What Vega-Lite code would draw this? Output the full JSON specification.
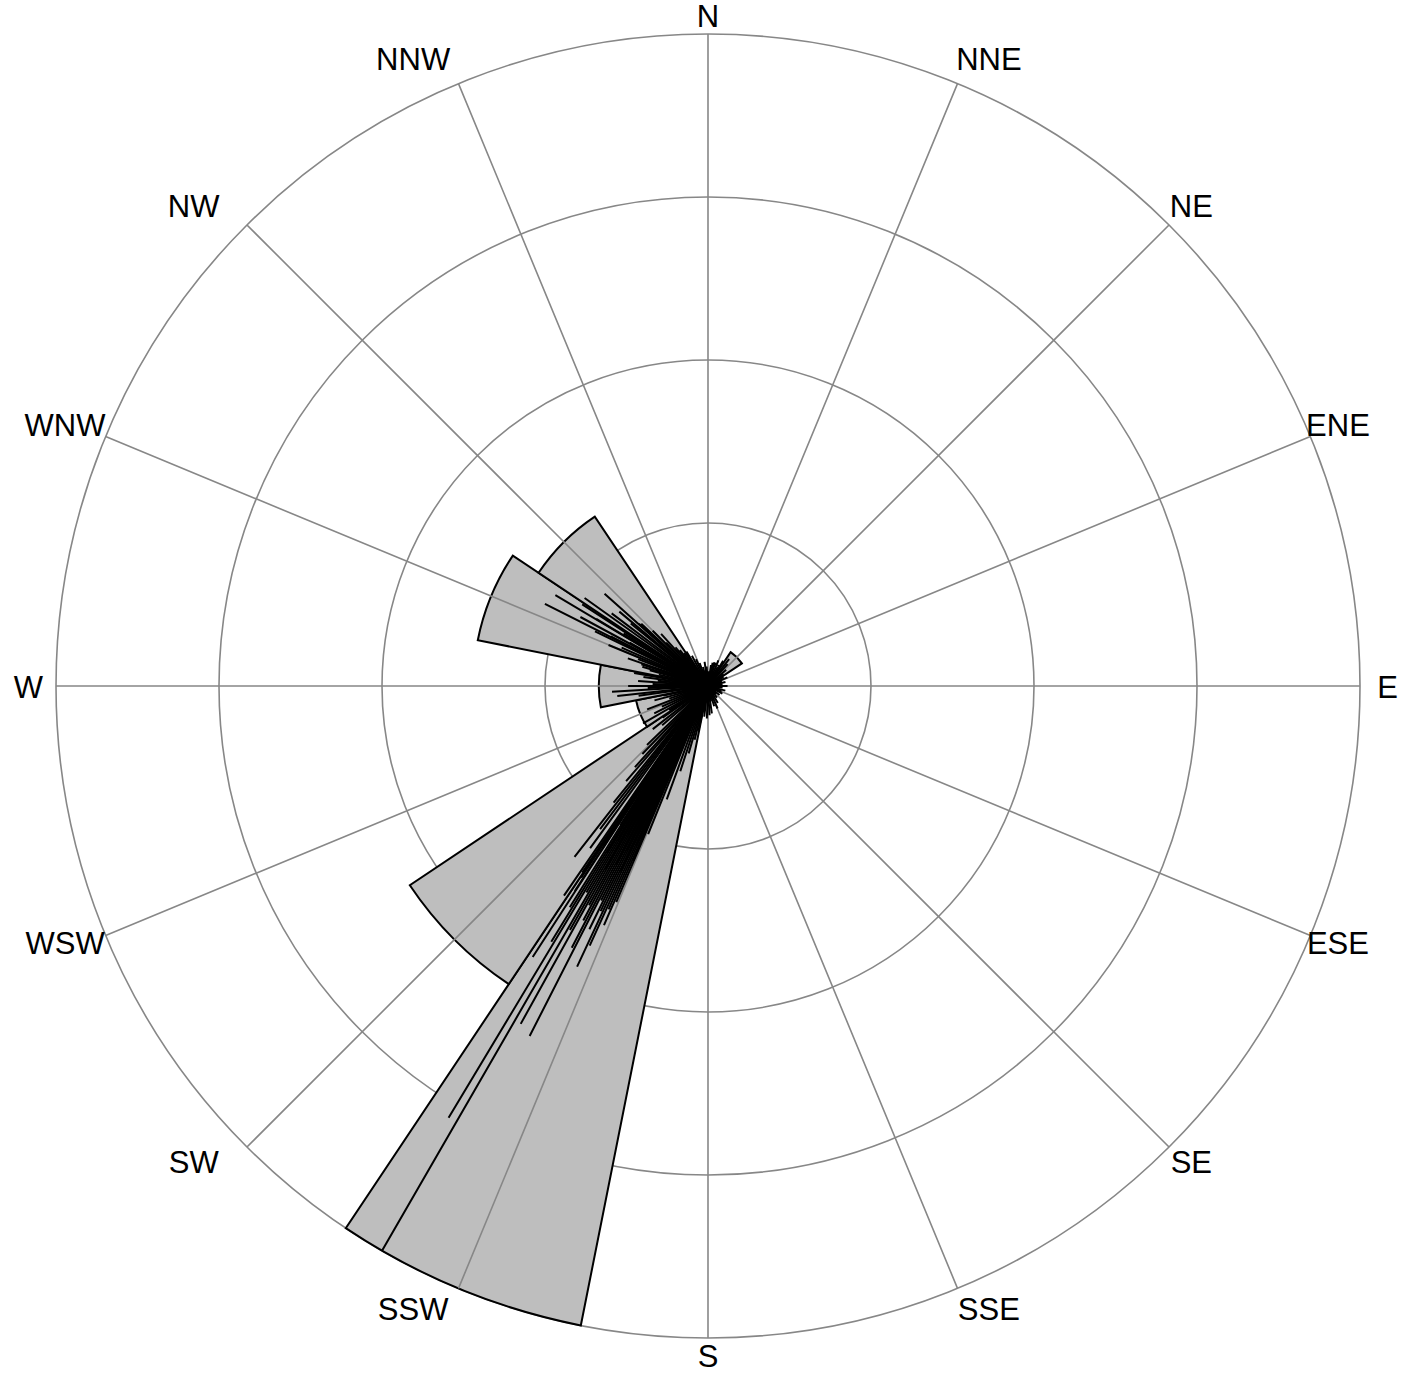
{
  "$schema": "https://vega.github.io/schema/vega-lite/v6.json",
  "width": 1416,
  "height": 1373,
  "padding": 0,
  "autosize": {"type": "fit", "contains": "padding"},
  "background": "white",
  "config": {"view": {"stroke": null}},
  "datasets": {
    "rings": [{"ring": 1}, {"ring": 2}, {"ring": 3}, {"ring": 4}],
    "directions": [
      {"dir": "N", "angle": 0}, {"dir": "NNE", "angle": 22.5}, {"dir": "NE", "angle": 45}, {"dir": "ENE", "angle": 67.5},
      {"dir": "E", "angle": 90}, {"dir": "ESE", "angle": 112.5}, {"dir": "SE", "angle": 135}, {"dir": "SSE", "angle": 157.5},
      {"dir": "S", "angle": 180}, {"dir": "SSW", "angle": 202.5}, {"dir": "SW", "angle": 225}, {"dir": "WSW", "angle": 247.5},
      {"dir": "W", "angle": 270}, {"dir": "WNW", "angle": 292.5}, {"dir": "NW", "angle": 315}, {"dir": "NNW", "angle": 337.5}
    ],
    "wedges": [
      {"dir": "N", "from": -11.25, "to": 11.25, "freq": 0.06},
      {"dir": "NNE", "from": 11.25, "to": 33.75, "freq": 0.14},
      {"dir": "NE", "from": 33.75, "to": 56.25, "freq": 0.25},
      {"dir": "ENE", "from": 56.25, "to": 78.75, "freq": 0.06},
      {"dir": "E", "from": 78.75, "to": 101.25, "freq": 0.05},
      {"dir": "ESE", "from": 101.25, "to": 123.75, "freq": 0.05},
      {"dir": "SE", "from": 123.75, "to": 146.25, "freq": 0.05},
      {"dir": "SSE", "from": 146.25, "to": 168.75, "freq": 0.06},
      {"dir": "S", "from": 168.75, "to": 191.25, "freq": 0.09},
      {"dir": "SSW", "from": 191.25, "to": 213.75, "freq": 4.0},
      {"dir": "SW", "from": 213.75, "to": 236.25, "freq": 2.2},
      {"dir": "WSW", "from": 236.25, "to": 258.75, "freq": 0.45},
      {"dir": "W", "from": 258.75, "to": 281.25, "freq": 0.67},
      {"dir": "WNW", "from": 281.25, "to": 303.75, "freq": 1.44},
      {"dir": "NW", "from": 303.75, "to": 326.25, "freq": 1.25},
      {"dir": "NNW", "from": 326.25, "to": 348.75, "freq": 0.09}
    ],
    "obs": [
      {"bearing": 210.0, "len": 4.0}, {"bearing": 211.0, "len": 3.09}, {"bearing": 209.0, "len": 2.37}, {"bearing": 207.0, "len": 2.41},
      {"bearing": 212.9, "len": 1.98}, {"bearing": 205.0, "len": 1.9}, {"bearing": 214.5, "len": 1.56},
      {"bearing": 203.0, "len": 1.44}, {"bearing": 203.5, "len": 1.6}, {"bearing": 204.0, "len": 1.5}, {"bearing": 204.5, "len": 1.75},
      {"bearing": 205.5, "len": 1.53}, {"bearing": 206.0, "len": 1.66}, {"bearing": 206.5, "len": 1.47}, {"bearing": 207.5, "len": 1.81},
      {"bearing": 208.0, "len": 1.63}, {"bearing": 208.5, "len": 1.53}, {"bearing": 209.5, "len": 1.72}, {"bearing": 210.5, "len": 1.47},
      {"bearing": 211.5, "len": 1.84}, {"bearing": 212.0, "len": 1.6}, {"bearing": 213.0, "len": 1.5}, {"bearing": 213.5, "len": 1.41},
      {"bearing": 214.0, "len": 1.38},
      {"bearing": 202.0, "len": 0.98}, {"bearing": 203.2, "len": 1.17}, {"bearing": 204.2, "len": 1.07}, {"bearing": 205.2, "len": 1.26},
      {"bearing": 206.2, "len": 1.13}, {"bearing": 207.2, "len": 1.23}, {"bearing": 208.2, "len": 1.04}, {"bearing": 209.2, "len": 1.29},
      {"bearing": 210.2, "len": 1.1}, {"bearing": 211.2, "len": 1.2}, {"bearing": 212.2, "len": 1.01}, {"bearing": 213.2, "len": 1.17},
      {"bearing": 214.2, "len": 0.92},
      {"bearing": 200.0, "len": 0.74}, {"bearing": 198.0, "len": 0.55}, {"bearing": 196.0, "len": 0.43}, {"bearing": 194.0, "len": 0.34},
      {"bearing": 192.0, "len": 0.28},
      {"bearing": 216.0, "len": 1.23}, {"bearing": 217.0, "len": 1.1}, {"bearing": 218.0, "len": 1.33}, {"bearing": 219.0, "len": 0.92},
      {"bearing": 220.7, "len": 0.77}, {"bearing": 222.0, "len": 0.67}, {"bearing": 224.0, "len": 0.58}, {"bearing": 226.0, "len": 0.52},
      {"bearing": 229.5, "len": 0.37}, {"bearing": 232.0, "len": 0.43}, {"bearing": 235.0, "len": 0.34}, {"bearing": 238.0, "len": 0.28},
      {"bearing": 240.0, "len": 0.46}, {"bearing": 243.0, "len": 0.37}, {"bearing": 246.0, "len": 0.31}, {"bearing": 249.0, "len": 0.4},
      {"bearing": 252.0, "len": 0.25}, {"bearing": 255.0, "len": 0.34}, {"bearing": 258.0, "len": 0.28},
      {"bearing": 262.0, "len": 0.43}, {"bearing": 263.7, "len": 0.56}, {"bearing": 266.6, "len": 0.59}, {"bearing": 268.0, "len": 0.37},
      {"bearing": 270.0, "len": 0.49}, {"bearing": 272.0, "len": 0.34}, {"bearing": 274.0, "len": 0.43}, {"bearing": 276.0, "len": 0.31},
      {"bearing": 278.0, "len": 0.4}, {"bearing": 280.0, "len": 0.46},
      {"bearing": 283.0, "len": 0.31}, {"bearing": 285.0, "len": 0.37}, {"bearing": 286.4, "len": 0.42}, {"bearing": 288.0, "len": 0.43},
      {"bearing": 289.0, "len": 0.52}, {"bearing": 291.0, "len": 0.46}, {"bearing": 292.4, "len": 0.66}, {"bearing": 294.0, "len": 0.58},
      {"bearing": 295.8, "len": 0.77}, {"bearing": 296.7, "len": 1.12}, {"bearing": 297.0, "len": 0.67}, {"bearing": 298.4, "len": 0.89},
      {"bearing": 299.0, "len": 0.55}, {"bearing": 300.8, "len": 1.09}, {"bearing": 301.0, "len": 0.8}, {"bearing": 302.0, "len": 0.61},
      {"bearing": 303.0, "len": 0.92},
      {"bearing": 305.5, "len": 0.93}, {"bearing": 307.0, "len": 0.74}, {"bearing": 309.0, "len": 0.61}, {"bearing": 310.0, "len": 0.71},
      {"bearing": 311.7, "len": 0.85}, {"bearing": 312.0, "len": 0.57}, {"bearing": 313.0, "len": 0.56}, {"bearing": 315.0, "len": 0.48},
      {"bearing": 316.0, "len": 0.37}, {"bearing": 318.0, "len": 0.43}, {"bearing": 320.0, "len": 0.31}, {"bearing": 322.0, "len": 0.28},
      {"bearing": 324.0, "len": 0.25},
      {"bearing": 328.0, "len": 0.25}, {"bearing": 332.0, "len": 0.21}, {"bearing": 336.0, "len": 0.18}, {"bearing": 340.0, "len": 0.15},
      {"bearing": 345.0, "len": 0.12}, {"bearing": 352.0, "len": 0.15}, {"bearing": 356.0, "len": 0.12}, {"bearing": 2.0, "len": 0.09},
      {"bearing": 8.0, "len": 0.13},
      {"bearing": 15.0, "len": 0.15}, {"bearing": 17.0, "len": 0.15}, {"bearing": 22.0, "len": 0.17}, {"bearing": 27.0, "len": 0.13},
      {"bearing": 31.0, "len": 0.18}, {"bearing": 38.0, "len": 0.21}, {"bearing": 42.0, "len": 0.18}, {"bearing": 48.0, "len": 0.15},
      {"bearing": 53.0, "len": 0.12}, {"bearing": 60.0, "len": 0.11}, {"bearing": 66.0, "len": 0.13}, {"bearing": 72.0, "len": 0.09},
      {"bearing": 77.0, "len": 0.11}, {"bearing": 84.0, "len": 0.09}, {"bearing": 90.0, "len": 0.12}, {"bearing": 96.0, "len": 0.09},
      {"bearing": 105.0, "len": 0.11}, {"bearing": 112.0, "len": 0.09}, {"bearing": 118.0, "len": 0.1}, {"bearing": 128.0, "len": 0.09},
      {"bearing": 135.0, "len": 0.07}, {"bearing": 142.0, "len": 0.09}, {"bearing": 150.0, "len": 0.12}, {"bearing": 157.0, "len": 0.15},
      {"bearing": 163.0, "len": 0.13}, {"bearing": 172.0, "len": 0.17}, {"bearing": 177.0, "len": 0.18}, {"bearing": 182.0, "len": 0.2},
      {"bearing": 187.0, "len": 0.19}, {"bearing": 190.0, "len": 0.15}
    ]
  },
  "layer": [
    {
      "data": {"name": "rings"},
      "mark": {"type": "arc", "filled": false, "stroke": "#878787", "strokeWidth": 1.6},
      "encoding": {
        "theta": {"value": 0},
        "theta2": {"value": 6.2832},
        "radius": {"field": "ring", "type": "quantitative", "stack": null,
          "scale": {"type": "linear", "domain": [0, 4], "range": [0, 652], "zero": true}}
      }
    },
    {
      "data": {"name": "wedges"},
      "mark": {"type": "arc", "fill": "#bebebe", "stroke": "black", "strokeWidth": 2},
      "encoding": {
        "theta": {"field": "from", "type": "quantitative", "stack": null,
          "scale": {"domain": [0, 360], "range": [0, 6.283185307]}},
        "theta2": {"field": "to"},
        "radius": {"field": "freq", "type": "quantitative", "stack": null,
          "scale": {"type": "linear", "domain": [0, 4], "range": [0, 652], "zero": true}}
      }
    },
    {
      "data": {"name": "directions"},
      "mark": {"type": "arc", "filled": false, "stroke": "#878787", "strokeWidth": 1.6},
      "encoding": {
        "theta": {"field": "angle", "type": "quantitative", "stack": null,
          "scale": {"domain": [0, 360], "range": [0, 6.283185307]}},
        "theta2": {"field": "angle"},
        "radius": {"datum": 4, "type": "quantitative",
          "scale": {"type": "linear", "domain": [0, 4], "range": [0, 652], "zero": true}}
      }
    },
    {
      "data": {"name": "obs"},
      "mark": {"type": "arc", "filled": false, "stroke": "black", "strokeWidth": 2},
      "encoding": {
        "theta": {"field": "bearing", "type": "quantitative", "stack": null,
          "scale": {"domain": [0, 360], "range": [0, 6.283185307]}},
        "theta2": {"field": "bearing"},
        "radius": {"field": "len", "type": "quantitative", "stack": null,
          "scale": {"type": "linear", "domain": [0, 4], "range": [0, 652], "zero": true}}
      }
    },
    {
      "data": {"name": "directions"},
      "transform": [{"filter": "datum.angle == 0 || datum.angle == 180"}],
      "mark": {"type": "text", "font": "Liberation Sans", "fontSize": 31, "color": "black", "align": "center", "baseline": "middle", "dy": 2},
      "encoding": {
        "text": {"field": "dir"},
        "theta": {"field": "angle", "type": "quantitative", "stack": null,
          "scale": {"domain": [0, 360], "range": [0, 6.283185307]}},
        "radius": {"datum": 4.11, "type": "quantitative",
          "scale": {"type": "linear", "domain": [0, 4], "range": [0, 652], "zero": true}}
      }
    },
    {
      "data": {"name": "directions"},
      "transform": [{"filter": "datum.angle == 90 || datum.angle == 270"}],
      "mark": {"type": "text", "font": "Liberation Sans", "fontSize": 31, "color": "black", "align": "center", "baseline": "middle", "dy": 3},
      "encoding": {
        "text": {"field": "dir"},
        "theta": {"field": "angle", "type": "quantitative", "stack": null,
          "scale": {"domain": [0, 360], "range": [0, 6.283185307]}},
        "radius": {"datum": 4.17, "type": "quantitative",
          "scale": {"type": "linear", "domain": [0, 4], "range": [0, 652], "zero": true}}
      }
    },
    {
      "data": {"name": "directions"},
      "transform": [{"filter": "datum.angle == 22.5 || datum.angle == 157.5"}],
      "mark": {"type": "text", "font": "Liberation Sans", "fontSize": 31, "color": "black", "align": "center", "baseline": "middle", "dx": 22},
      "encoding": {
        "text": {"field": "dir"},
        "theta": {"field": "angle", "type": "quantitative", "stack": null,
          "scale": {"domain": [0, 360], "range": [0, 6.283185307]}},
        "radius": {"datum": 4.15, "type": "quantitative",
          "scale": {"type": "linear", "domain": [0, 4], "range": [0, 652], "zero": true}}
      }
    },
    {
      "data": {"name": "directions"},
      "transform": [{"filter": "datum.angle == 45 || datum.angle == 67.5 || datum.angle == 112.5 || datum.angle == 135"}],
      "mark": {"type": "text", "font": "Liberation Sans", "fontSize": 31, "color": "black", "align": "center", "baseline": "middle", "dx": 5},
      "encoding": {
        "text": {"field": "dir"},
        "theta": {"field": "angle", "type": "quantitative", "stack": null,
          "scale": {"domain": [0, 360], "range": [0, 6.283185307]}},
        "radius": {"datum": 4.15, "type": "quantitative",
          "scale": {"type": "linear", "domain": [0, 4], "range": [0, 652], "zero": true}}
      }
    },
    {
      "data": {"name": "directions"},
      "transform": [{"filter": "datum.angle == 202.5 || datum.angle == 225 || datum.angle == 315 || datum.angle == 337.5"}],
      "mark": {"type": "text", "font": "Liberation Sans", "fontSize": 31, "color": "black", "align": "center", "baseline": "middle", "dx": -36},
      "encoding": {
        "text": {"field": "dir"},
        "theta": {"field": "angle", "type": "quantitative", "stack": null,
          "scale": {"domain": [0, 360], "range": [0, 6.283185307]}},
        "radius": {"datum": 4.15, "type": "quantitative",
          "scale": {"type": "linear", "domain": [0, 4], "range": [0, 652], "zero": true}}
      }
    },
    {
      "data": {"name": "directions"},
      "transform": [{"filter": "datum.angle == 247.5 || datum.angle == 292.5"}],
      "mark": {"type": "text", "font": "Liberation Sans", "fontSize": 31, "color": "black", "align": "center", "baseline": "middle", "dx": -18},
      "encoding": {
        "text": {"field": "dir"},
        "theta": {"field": "angle", "type": "quantitative", "stack": null,
          "scale": {"domain": [0, 360], "range": [0, 6.283185307]}},
        "radius": {"datum": 4.15, "type": "quantitative",
          "scale": {"type": "linear", "domain": [0, 4], "range": [0, 652], "zero": true}}
      }
    }
  ]
}
